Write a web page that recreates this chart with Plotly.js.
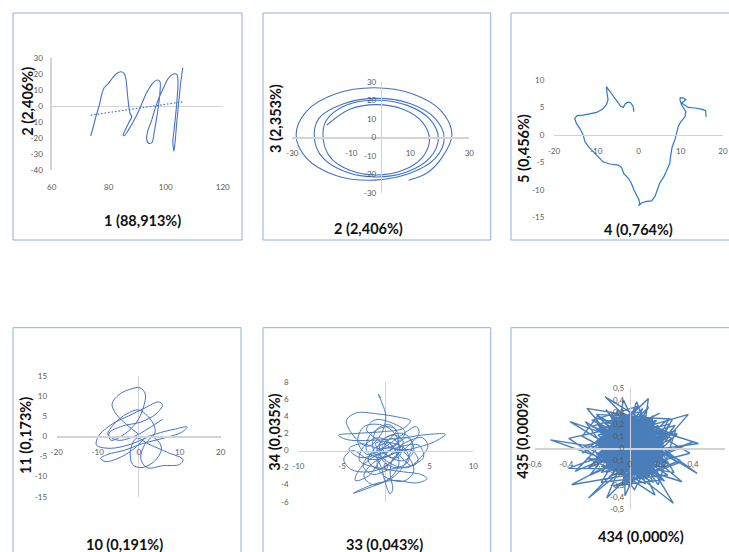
<!DOCTYPE html>
<html>
<head>
<meta charset="utf-8">
<script src="https://cdn.plot.ly/plotly-3.0.1.min.js"></script>
<style>html,body{margin:0;padding:0;background:#fff;}#chart{width:729px;height:552px;}</style>
</head>
<body>
<div id="chart"></div>
<script>
// ---------- DATA ----------
// Panel 1 : component 1 vs component 2
const p1x = [73.7,74.6,75.5,76.7,77.5,78.4,79.9,81.4,82.8,84.2,85.4,86.1,86.5,87.0,87.5,88.1,87.2,86.1,85.1,85.5,86.9,88.6,90.4,91.9,93.5,95.4,97.1,98.0,98.0,97.5,96.8,96.0,95.2,94.0,93.3,93.8,95.1,96.3,97.8,99.4,100.9,102.7,103.9,104.3,104.1,103.6,103.0,102.5,102.9,103.3,103.9,104.6,105.3,106.0];
const p1y = [-18.7,-12.9,-6.6,0.7,7.0,11.5,14.3,17.8,20.5,21.6,20.6,16.4,9.0,0.7,-4.5,-6.6,-9.8,-13.9,-18.1,-18.5,-15.0,-9.8,-3.5,2.8,9.0,14.3,16.4,15.3,9.0,0.7,-7.6,-16.0,-22.7,-23.3,-20.2,-15.0,-8.7,-1.4,5.9,12.2,17.4,20.1,19.9,16.4,7.0,-3.5,-13.9,-22.7,-28.2,-22.3,-9.8,2.8,15.3,24.1];
const p1trendX = [73.7,106.2];
const p1trendY = [-5.6,2.8];

// Panel 2 : component 2 vs component 3
const p2x = [-18.3,-10.5,-1.5,7.5,14.1,16.5,14.1,7.5,-1.5,-10.5,-17.1,-19.5,-18.5,-12.0,-1.5,9.0,16.7,19.5,16.7,9.0,-1.5,-12.0,-19.7,-22.5,-21.0,-12.6,-1.25,10.1,18.4,21.5,18.4,10.1,-2.0,-15.0,-25.2,-28.7,-25.2,-15.5,-2.3,10.9,20.6,24.1,20.6,15.5,9.4];
const p2y = [6.6,15.1,17.6,15.1,8.1,-1.4,-10.9,-17.9,-20.4,-17.9,-10.9,-1.4,9.0,17.2,20.0,17.2,9.6,-0.75,-11.1,-18.7,-21.5,-18.7,-11.1,-0.75,10.2,18.1,21.0,18.1,10.2,-0.65,-11.5,-19.4,-23.2,-20.8,-11.3,1.35,14.0,23.3,26.7,23.3,14.0,1.35,-11.3,-19.5,-23.3];

// Panel 3 : component 4 vs component 5
const p3x = [-1.1,-1.26,-1.9,-2.6,-3.2,-3.6,-4.2,-4.6,-5.05,-5.6,-6.15,-6.6,-7.2,-7.6,-7.45,-7.2,-7.6,-8.5,-9.9,-11.5,-13.1,-14.5,-15.1,-14.7,-13.9,-13.1,-12.7,-11.9,-10.7,-9.5,-8.4,-6.8,-4.8,-4.0,-3.5,-2.4,-1.7,-1.1,-0.5,0.1,0.3,0.0,0.7,1.9,3.1,3.9,4.4,5.0,6.0,6.8,7.4,7.65,8.0,8.6,9.0,9.4,10.0,11.0,11.2,10.7,10.2,9.8,9.9,10.7,11.2,10.2,11.8,13.3,14.9,15.9,16.0];
const p3y = [4.25,5.2,5.9,5.95,5.6,5.0,5.2,5.6,6.2,6.6,7.2,7.6,8.4,8.8,7.6,6.4,5.5,4.7,4.1,3.8,3.6,3.5,3.0,2.1,1.2,0.0,-1.2,-2.1,-3.0,-3.9,-4.9,-5.3,-5.5,-5.95,-7.0,-7.9,-8.8,-10.0,-10.9,-11.8,-12.6,-12.9,-12.4,-12.1,-12.0,-11.2,-10.0,-8.8,-7.6,-6.4,-5.2,-3.6,-2.1,-0.9,0.3,1.5,2.4,3.3,4.25,4.9,5.5,6.4,6.8,6.7,6.4,5.8,5.0,4.9,4.7,4.4,3.3];

// Panel 4 : component 10 vs component 11
const p4x = [0.0,-2.5,-5.5,-6.5,-4.8,-2.2,0.3,1.6,1.1,-0.5,-3.5,-6.8,-7.2,-4.0,0.5,4.2,5.8,4.8,1.5,-2.5,-6.5,-9.8,-10.3,-7.0,-2.0,4.0,9.0,11.8,10.5,6.0,1.0,-3.5,-7.5,-9.3,-8.0,-4.0,-1.0,2.5,5.0,5.5,3.5,0.5,-1.5,-2.0,-0.5,2.5,7.0,10.8,10.0,6.0,2.0,0.5,1.5,4.0,3.0,0.0,-3.0,-6.0,-7.5,-5.0,-1.0,2.5,5.8];
const p4y = [0.5,2.5,5.5,8.0,10.3,11.6,12.0,10.5,7.0,3.5,0.5,-1.0,0.8,2.5,3.5,5.5,7.8,8.5,7.0,5.0,3.0,0.0,-2.2,-3.0,-2.0,0.5,1.8,2.3,1.0,-0.5,-1.8,-3.5,-4.5,-5.5,-6.3,-5.0,-3.0,0.0,-1.5,-3.5,-6.5,-7.8,-7.0,-3.5,-0.5,-2.0,-4.0,-5.8,-7.0,-7.3,-7.8,-5.5,-2.0,1.0,4.0,6.5,5.5,3.0,0.5,-1.0,0.0,2.0,4.2];

// Panel 5 : component 33 vs component 34
const p5x = [-0.6,-0.85,-0.4,0.0,-0.5,-2.0,-3.5,-4.5,-3.4,-1.0,1.5,2.8,2.0,-0.5,-3.5,-5.4,-4.5,-1.5,2.0,5.0,6.8,5.5,3.0,0.5,-1.5,-2.5,-1.5,0.5,1.5,0.8,-0.8,-2.5,-3.0,-1.0,2.0,4.0,4.7,3.5,1.0,-1.5,-3.7,-1.5,1.0,2.5,3.0,2.0,0.0,-1.0,0.5,2.5,3.8,4.8,4.2,2.0,0.0,-2.0,-3.8,-4.8,-4.0,-2.0,0.0,1.5,1.0,-0.5,-2.5,-3.2,-2.0,0.0,1.8,3.5,3.8,2.5,0.8,0.5,0.8,0.5,0.0,-0.5,-1.5,-1.0,0.5,1.5,0.5,-1.5,-3.0,-3.5,-2.0,-0.5,1.0,2.5,3.2,2.0,0.0,-1.2,0.2,1.5,3.0,3.7,3.0,1.0,
 -0.8,-2.2,-1.2,0.8,2.2,1.2,-0.5,-2.8,-4.2,-3.0,-0.5,1.8,3.8,4.3,2.8,0.5,-1.5,-2.6,-1.8,0.2,2.2,3.2,2.0,-0.2,-1.0,0.0,1.2,0.0,-1.8,-2.2,-1.0,0.8,2.0,1.0,-0.6,-0.3,1.2,2.6,2.2,0.5,-1.2,-2.0,-0.8,0.6,1.6,0.8,-0.4,0.2,1.4,2.0];
const p5y = [6.2,6.6,5.5,4.0,2.0,0.5,1.5,3.5,4.4,4.3,3.9,3.5,2.6,2.2,2.0,1.8,1.3,1.2,1.5,1.9,1.9,1.0,0.2,-0.5,-1.5,-3.0,-4.0,-3.2,-1.5,0.5,1.5,0.5,-1.2,-2.0,-2.5,-2.8,-3.3,-3.8,-3.5,-4.0,-5.0,-4.2,-3.0,-1.0,1.0,2.0,1.5,0.0,-1.5,-2.0,-1.0,0.5,1.5,0.8,-0.8,-1.0,0.0,-1.0,-2.2,-2.5,-1.8,0.0,2.0,3.0,2.8,1.0,-0.5,0.5,1.8,2.8,2.0,0.5,-1.0,-2.8,-4.5,-5.1,-4.0,-2.0,0.5,2.5,3.0,1.5,0.0,-0.8,-2.2,-3.5,-3.0,-1.0,0.5,1.5,0.0,-1.2,-0.5,0.8,1.0,-0.5,-1.8,-1.2,0.0,0.2,
 1.2,2.5,3.6,3.2,2.2,0.8,0.2,0.8,0.2,-0.8,-0.3,0.5,0.6,-0.8,-1.8,-2.2,-2.8,-1.8,-0.5,0.3,-0.3,-2.4,-3.6,-3.0,-1.5,0.8,2.4,2.8,1.8,0.0,-0.8,-0.4,1.0,1.8,1.0,-1.2,-2.0,-1.2,0.2,0.9,0.3,-1.2,-2.2,-1.4,0.2,1.4,0.6,-0.6,-0.8,0.6];

// Panel 6 : component 434 vs component 435
const p6x = [
0.05,-0.12,0.18,-0.03,0.10,-0.17,0.02,0.14,-0.155,0.21,-0.15,0.07,-0.02,0.16,-0.20,0.04,0.37,-0.10,0.19,-0.06,
0.09,-0.14,0.01,0.20,-0.09,0.434,-0.18,0.06,0.11,-0.05,0.17,-0.13,0.03,-0.16,0.22,-0.07,0.08,-0.387,0.15,0.00,
-0.11,0.18,-0.04,0.12,-0.20,0.10,0.05,-0.15,0.20,-0.08,0.276,-0.01,-0.17,0.09,0.16,-0.12,0.03,0.19,-0.06,0.07,
-0.19,0.13,-0.50,0.04,0.23,-0.10,0.15,-0.02,-0.14,0.118,0.06,-0.21,0.11,0.00,0.18,-0.07,-0.16,0.21,-0.04,0.10,
0.14,-0.08,0.02,-0.26,0.17,-0.13,0.08,0.20,-0.05,0.12,-0.18,0.05,0.33,-0.10,0.01,0.16,-0.15,0.09,-0.03,0.22,
-0.12,0.07,-0.20,0.15,0.03,-0.09,0.19,-0.377,0.11,-0.01,-0.16,0.13,0.06,-0.06,0.24,-0.14,0.10,-0.03,0.17,-0.19,
0.04,0.16,-0.11,0.08,0.404,-0.07,0.20,-0.17,0.02,0.13,-0.03,-0.03,0.18,-0.20,0.09,-0.09,0.15,-0.145,0.06,-0.13,
0.21,-0.04,0.10,-0.18,0.14,-0.27,0.01,0.17,-0.12,0.07,0.23,-0.15,0.04,-0.08,0.12,0.287,-0.19,0.08,-0.01,0.16,
-0.10,0.19,-0.06,0.426,0.05,-0.16,0.11,-0.02,0.20,-0.13,0.08,-0.21,0.15,0.00,-0.09,0.18,-0.366,0.12,-0.05,0.03,
0.14,-0.17,0.09,-0.04,0.22,-0.11,0.044,0.17,-0.20,0.06,0.13,-0.07,0.01,0.19,-0.14,0.10,0.38,-0.03,0.16,-0.12,
0.07,-0.19,0.16,-0.01,-0.345,0.12,-0.08,0.20,-0.15,0.04,0.10,-0.04,0.16,-0.385,0.02,0.21,-0.11,0.08,-0.17,0.13,
-0.06,0.18,-0.13,0.05,0.15,-0.22,0.09,-0.04,0.19,-0.10,0.03,0.30,-0.16,0.11,-0.02,0.17,-0.08,-0.04,0.13,-0.18,
0.08,-0.12,0.20,-0.07,0.01,0.14,-0.19,0.06,-0.03,0.16,0.25,-0.09,0.12,-0.14,0.04,0.22,-0.05,0.10,-0.20,0.00,
0.15,-0.15,0.07,0.18,-0.10,0.02,0.21,-0.17,0.11,-0.05,0.24,-0.12,0.09,0.17,-0.08,0.13,-0.20,0.05,0.11,0.02,
-0.09,0.12,-0.20,0.05,0.17,-0.13,0.00,0.22,-0.06,0.10,-0.18,0.15,-0.02,0.08,-0.14,0.19,-0.10,0.03,0.14,-0.22,
0.11,-0.07,0.20,-0.16,0.04,0.13,-0.11,0.18,-0.03,0.07,-0.19,0.16,0.01,-0.12,0.21,-0.05,0.09,-0.17,0.14,-0.01,
0.06,-0.15,0.10,0.19,-0.08,0.02,-0.20,0.13,0.17,-0.11,0.05,-0.06,0.22,-0.14,0.09,-0.02,0.15,-0.18,0.07,0.12,
-0.04,0.16,-0.13,0.08,-0.21,0.11,0.00,0.20,-0.09,0.14,-0.16,0.04,0.18,-0.07,0.10,-0.12,0.23,-0.03,0.06,-0.18,
0.13,-0.10,0.07,-0.19,0.15,0.03,-0.05,0.21,-0.14,0.09,0.01,-0.17,0.12,0.19,-0.08,0.05,-0.12,0.16,-0.02,0.08,
0.26,-0.24,0.05,0.28,-0.27,0.10,-0.08,0.30,-0.22,0.00,0.25,-0.29,0.15,-0.12,0.27,-0.25,0.08,-0.05,0.31,-0.20,
-0.30,0.22,-0.15,0.18,0.29,-0.26,0.12,-0.18,0.24,-0.28,0.03,0.27,-0.21,0.20,-0.10,0.32,-0.24,0.06,-0.30,0.19];
const p6y = [
0.02,0.15,-0.08,0.22,-0.18,0.05,-0.12,0.19,0.425,-0.05,-0.20,0.12,0.25,-0.14,0.08,-0.22,0.28,0.10,-0.03,-0.16,
0.20,-0.10,-0.24,0.14,0.26,0.04,-0.07,-0.19,0.11,0.17,0.23,-0.15,0.06,0.21,-0.11,-0.02,-0.17,-0.165,0.09,0.27,
-0.13,0.07,0.18,-0.21,0.00,0.24,-0.16,0.13,0.03,-0.09,-0.453,0.16,-0.04,0.20,-0.12,0.27,-0.20,0.10,0.06,-0.23,
0.18,-0.06,0.07,-0.18,0.12,0.26,-0.22,0.05,0.09,0.41,-0.14,-0.05,0.22,-0.24,0.01,0.15,-0.10,-0.15,0.24,0.08,
-0.19,0.23,-0.11,-0.41,0.16,-0.02,0.27,-0.08,-0.20,0.13,0.10,-0.16,-0.275,0.19,0.05,0.21,-0.07,-0.23,0.14,-0.01,
0.06,-0.21,0.11,0.20,-0.13,0.25,-0.04,0.22,-0.17,0.17,-0.08,0.03,-0.24,0.28,0.09,-0.12,0.18,-0.19,0.00,0.14,
-0.15,0.12,0.21,-0.10,0.055,-0.22,0.07,0.16,0.26,-0.18,0.04,-0.39,0.19,-0.06,-0.20,0.13,-0.03,-0.41,0.23,0.10,
-0.07,0.20,-0.16,0.02,0.24,0.33,-0.11,-0.20,0.15,-0.24,0.11,-0.14,0.27,0.07,-0.09,0.19,0.01,0.22,-0.18,0.05,
0.17,-0.12,0.25,-0.206,0.09,-0.05,0.21,-0.23,0.13,0.04,-0.17,0.16,-0.01,0.23,-0.14,0.08,-0.30,-0.19,0.11,0.26,
-0.22,0.10,-0.06,0.19,0.02,-0.16,0.385,-0.09,0.20,-0.20,0.14,0.24,-0.13,0.06,-0.03,0.17,-0.04,-0.18,0.23,0.00,
0.12,-0.04,-0.21,0.26,-0.19,0.07,-0.14,0.15,0.21,-0.10,-0.24,0.18,-0.385,0.082,0.20,-0.08,-0.17,0.25,0.03,-0.12,
0.22,0.01,0.16,-0.17,0.27,-0.09,-0.20,0.11,-0.05,0.19,-0.22,0.12,0.04,-0.13,0.24,-0.16,0.09,0.40,-0.07,-0.20,
0.14,-0.23,-0.02,0.20,-0.12,0.24,0.06,-0.18,0.17,0.02,0.25,-0.15,0.21,-0.06,-0.21,0.10,0.27,-0.11,0.05,-0.17,
0.19,0.05,-0.16,-0.04,0.23,-0.20,0.16,-0.10,0.08,0.26,-0.13,0.20,-0.24,0.12,-0.15,0.03,0.14,0.21,-0.08,0.04,
-0.10,0.21,0.03,-0.19,0.15,-0.07,0.26,-0.14,0.10,-0.22,0.18,-0.03,0.24,-0.16,0.07,-0.09,0.20,-0.21,0.13,0.02,
0.17,-0.20,-0.05,0.12,0.25,-0.13,0.08,0.02,-0.23,0.19,-0.11,0.22,-0.17,0.05,-0.02,0.27,-0.14,0.10,-0.19,0.16,
-0.15,0.09,0.23,-0.08,-0.18,0.20,0.04,-0.21,0.14,0.01,-0.12,0.26,-0.04,0.18,-0.20,0.11,0.06,-0.10,0.22,-0.24,
0.20,-0.02,-0.17,0.24,0.06,-0.12,0.18,-0.09,0.13,-0.20,0.03,0.21,-0.15,-0.06,0.27,0.09,-0.11,-0.22,0.15,0.00,
-0.06,0.16,-0.20,0.07,-0.13,0.23,-0.18,0.11,0.19,-0.10,0.25,-0.04,0.02,-0.16,0.12,-0.23,0.08,0.20,-0.08,0.14,
-0.05,0.18,0.30,-0.20,-0.08,-0.29,0.31,0.10,0.25,-0.32,0.20,0.02,-0.28,0.30,0.08,-0.22,0.33,-0.30,-0.12,0.27,
0.10,-0.27,0.32,-0.30,0.15,-0.16,0.34,-0.28,-0.22,0.22,-0.34,0.24,0.28,-0.26,-0.31,-0.10,0.23,0.35,-0.04,0.29];

// Tick values / labels
const p1XT = [60,80,100,120], p1XL = ["60","80","100","120"];
const p1YT = [-40,-30,-20,-10,0,10,20,30], p1YL = ["-40","-30","-20","-10","0","10","20","30"];
const p2XT = [-30,-10,10,30], p2XL = ["-30","-10","10","30"];
const p2YT = [-30,-20,-10,0,10,20,30], p2YL = ["-30","-20","-10","0","10","20","30"];
const p3XT = [-20,-10,0,10,20], p3XL = ["-20","-10","0","10","20"];
const p3YT = [-15,-10,-5,0,5,10], p3YL = ["-15","-10","-5","0","5","10"];
const p4XT = [-20,-10,0,10,20], p4XL = ["-20","-10","0","10","20"];
const p4YT = [-15,-10,-5,0,5,10,15], p4YL = ["-15","-10","-5","0","5","10","15"];
const p5XT = [-10,-5,0,5,10], p5XL = ["-10","-5","0","5","10"];
const p5YT = [-6,-4,-2,0,2,4,6,8], p5YL = ["-6","-4","-2","0","2","4","6","8"];
const p6XT = [-0.6,-0.4,-0.2,0,0.2,0.4,0.6], p6XL = ["-0,6","-0,4","-0,2","0","0,2","0,4","0,6"];
const p6YT = [-0.5,-0.4,-0.3,-0.2,-0.1,0,0.1,0.2,0.3,0.4,0.5], p6YL = ["-0,5","-0,4","-0,3","-0,2","-0,1","0","0,1","0,2","0,3","0,4","0,5"];

// Axis titles
const xTitles = ["1 (88,913%)","2 (2,406%)","4 (0,764%)","10 (0,191%)","33 (0,043%)","434 (0,000%)"];
const yTitles = ["2 (2,406%)","3 (2,353%)","5 (0,456%)","11 (0,173%)","34 (0,035%)","435 (0,000%)"];

// ---------- LAYOUT ----------
const W = 729, H = 552;
const fx = px => px / W;
const fy = py => 1 - py / H;
const AXC = '#d3d3d3';
const tickFont = {family: 'Lato, "Open Sans", sans-serif', size: 8, color: '#595959'};
const titleFont = {family: 'Lato, "Open Sans", sans-serif', size: 14.5, color: '#111111'};
const BLUE = '#4472c4';

function dom(a, b) { return [fx(a), fx(b)]; }
function domY(top, bottom) { return [fy(bottom), fy(top)]; }
function zeroPos(d, r) { return d[0] + (0 - r[0]) / (r[1] - r[0]) * (d[1] - d[0]); }

function baseAxis(domain, range, tv, tl) {
  return {domain: domain, range: range, showgrid: false, zeroline: false, showline: false,
    tickmode: 'array', tickvals: tv, ticktext: tl, tickfont: tickFont,
    ticks: 'outside', tickcolor: 'rgba(0,0,0,0)', fixedrange: true, linecolor: AXC, linewidth: 1.3,
    zerolinecolor: AXC, zerolinewidth: 1.3};
}

const layout = {width: W, height: H, margin: {l: 0, r: 0, t: 0, b: 0},
  paper_bgcolor: '#fff', plot_bgcolor: 'rgba(0,0,0,0)', showlegend: false, separators: ', ',
  shapes: [], annotations: []};

// panel 1
const d1x = dom(51.7, 222.7), d1y = domY(58.3, 170), r1x = [60, 120], r1y = [-40, 30];
layout.xaxis = Object.assign(baseAxis(d1x, r1x, p1XT, p1XL), {anchor: 'y', ticklen: 9});
layout.yaxis = Object.assign(baseAxis(d1y, r1y, p1YT, p1YL), {anchor: 'x', ticklen: 6, showline: true, zeroline: true});
// panel 2
const d2x = dom(292.3, 469.3), d2y = domY(81.7, 192.7), r2x = [-30, 30], r2y = [-30, 30];
layout.xaxis2 = Object.assign(baseAxis(d2x, r2x, p2XT, p2XL), {anchor: 'free', position: zeroPos(d2y, r2y), showline: true, ticklen: 8});
layout.yaxis2 = Object.assign(baseAxis(d2y, r2y, p2YT, p2YL), {anchor: 'free', position: zeroPos(d2x, r2x), showline: true, ticklen: 3});
// panel 3
const d3x = dom(554, 723), d3y = domY(80, 217.3), r3x = [-20, 20], r3y = [-15, 10];
layout.xaxis3 = Object.assign(baseAxis(d3x, r3x, p3XT, p3XL), {anchor: 'free', position: zeroPos(d3y, r3y), showline: true, ticklen: 8});
layout.yaxis3 = Object.assign(baseAxis(d3y, r3y, p3YT, p3YL), {anchor: 'x3', ticklen: 7});
// panel 4
const d4x = dom(56.7, 220.7), d4y = domY(375.7, 496.7), r4x = [-20, 20], r4y = [-15, 15];
layout.xaxis4 = Object.assign(baseAxis(d4x, r4x, p4XT, p4XL), {anchor: 'free', position: zeroPos(d4y, r4y), showline: true, zeroline: true, ticklen: 8});
layout.yaxis4 = Object.assign(baseAxis(d4y, r4y, p4YT, p4YL), {anchor: 'x4', ticklen: 7});
// panel 5
const d5x = dom(298.3, 473.3), d5y = domY(382.3, 501.7), r5x = [-10, 10], r5y = [-6, 8];
layout.xaxis5 = Object.assign(baseAxis(d5x, r5x, p5XT, p5XL), {anchor: 'free', position: zeroPos(d5y, r5y), showline: true, zeroline: true, ticklen: 8});
layout.yaxis5 = Object.assign(baseAxis(d5y, r5y, p5YT, p5YL), {anchor: 'x5', ticklen: 7});
// panel 6
const d6x = dom(534.7, 724.7), d6y = domY(387.7, 509), r6x = [-0.6, 0.6], r6y = [-0.5, 0.5];
layout.xaxis6 = Object.assign(baseAxis(d6x, r6x, p6XT, p6XL), {anchor: 'free', position: zeroPos(d6y, r6y), showline: true, ticklen: 8});
layout.yaxis6 = Object.assign(baseAxis(d6y, r6y, p6YT, p6YL), {anchor: 'free', position: zeroPos(d6x, r6x), showline: true, ticklen: 4});

// frames of the six chart boxes
const boxes = [[13, 13, 242, 240], [263, 13, 490.7, 240], [511, 13, 740, 240],
               [13, 327.7, 241, 565], [263, 327.7, 490.7, 565], [511, 327.7, 740, 565]];
boxes.forEach(b => layout.shapes.push({type: 'rect', xref: 'paper', yref: 'paper', layer: 'below',
  x0: fx(b[0]), x1: fx(b[2]), y0: fy(b[3]), y1: fy(b[1]), line: {color: '#8eaee0', width: 1}, fillcolor: 'rgba(0,0,0,0)'}));

// axis titles
const xTitlePos = [[142, 220.7], [368.7, 229], [638, 229.3], [124, 544.5], [384.7, 544.5], [640.5, 536.7]];
const yTitlePos = [[26.7, 101], [276, 119], [523, 149], [25, 436], [275, 432.7], [523, 435.8]];
xTitles.forEach((t, i) => layout.annotations.push({text: '<b>' + t + '</b>', xref: 'paper', yref: 'paper',
  x: fx(xTitlePos[i][0]), y: fy(xTitlePos[i][1]), xanchor: 'center', yanchor: 'middle', showarrow: false, font: titleFont}));
yTitles.forEach((t, i) => layout.annotations.push({text: '<b>' + t + '</b>', xref: 'paper', yref: 'paper', textangle: -90,
  x: fx(yTitlePos[i][0]), y: fy(yTitlePos[i][1]), xanchor: 'center', yanchor: 'middle', showarrow: false, font: titleFont}));

// ---------- TRACES ----------
const traces = [
  {x: p1x, y: p1y, xaxis: 'x', yaxis: 'y', mode: 'lines', line: {color: BLUE, width: 1.1, shape: 'spline', smoothing: 0.8}},
  {x: p1trendX, y: p1trendY, xaxis: 'x', yaxis: 'y', mode: 'lines', line: {color: BLUE, width: 1.4, dash: '1.5px,2px'}},
  {x: p2x, y: p2y, xaxis: 'x2', yaxis: 'y2', mode: 'lines', line: {color: BLUE, width: 1.1, shape: 'spline', smoothing: 1}},
  {x: p3x, y: p3y, xaxis: 'x3', yaxis: 'y3', mode: 'lines', line: {color: '#2a78cc', width: 1.2}},
  {x: p4x, y: p4y, xaxis: 'x4', yaxis: 'y4', mode: 'lines', line: {color: BLUE, width: 1.0, shape: 'spline', smoothing: 1}},
  {x: p5x, y: p5y, xaxis: 'x5', yaxis: 'y5', mode: 'lines', line: {color: '#4a7cc0', width: 1.0, shape: 'spline', smoothing: 1}},
  {x: p6x, y: p6y, xaxis: 'x6', yaxis: 'y6', mode: 'lines', line: {color: '#4a7ebb', width: 1.4}}
];

Plotly.newPlot('chart', traces, layout, {displayModeBar: false, staticPlot: true});
</script>
</body>
</html>
